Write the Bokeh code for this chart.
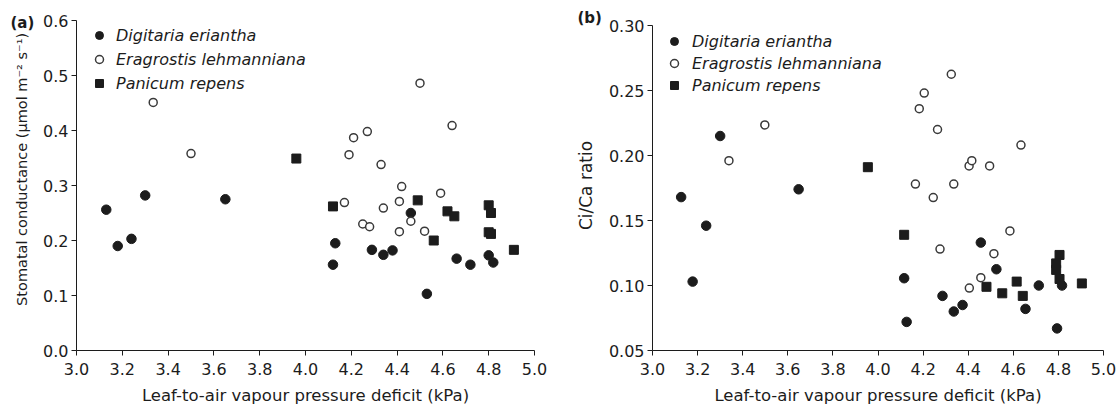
from bokeh.plotting import figure
from bokeh.models import Range1d, FixedTicker, PrintfTickFormatter, Legend, LegendItem, Title
from bokeh.layouts import row
from bokeh.embed import file_html
from bokeh.resources import INLINE

# ---------------- data ----------------
x_ticks = [3.0, 3.2, 3.4, 3.6, 3.8, 4.0, 4.2, 4.4, 4.6, 4.8, 5.0]
a_y_ticks = [0.0, 0.1, 0.2, 0.3, 0.4, 0.5, 0.6]
b_y_ticks = [0.05, 0.10, 0.15, 0.20, 0.25, 0.30]
species = ["Digitaria eriantha", "Eragrostis lehmanniana", "Panicum repens"]

# panel (a): stomatal conductance
a_dig_x = [3.13, 3.18, 3.24, 3.30, 3.65, 4.12, 4.13, 4.29, 4.34, 4.38, 4.46, 4.53, 4.66, 4.72, 4.80, 4.82]
a_dig_y = [0.256, 0.190, 0.203, 0.282, 0.275, 0.156, 0.195, 0.183, 0.174, 0.182, 0.250, 0.103, 0.167, 0.156, 0.173, 0.160]
a_era_x = [3.335, 3.50, 4.17, 4.19, 4.21, 4.25, 4.27, 4.28, 4.33, 4.34, 4.41, 4.41, 4.42, 4.46, 4.50, 4.52, 4.59, 4.64]
a_era_y = [0.451, 0.358, 0.269, 0.356, 0.387, 0.230, 0.398, 0.225, 0.338, 0.259, 0.271, 0.216, 0.298, 0.235, 0.486, 0.217, 0.286, 0.409]
a_pan_x = [3.96, 4.12, 4.49, 4.56, 4.62, 4.65, 4.80, 4.80, 4.81, 4.81, 4.91]
a_pan_y = [0.349, 0.262, 0.273, 0.200, 0.253, 0.244, 0.264, 0.215, 0.250, 0.212, 0.183]

# panel (b): Ci/Ca ratio
b_dig_x = [3.127, 3.178, 3.238, 3.300, 3.648, 4.116, 4.127, 4.286, 4.336, 4.375, 4.456, 4.525, 4.654, 4.713, 4.794, 4.816]
b_dig_y = [0.168, 0.103, 0.146, 0.215, 0.174, 0.1056, 0.072, 0.092, 0.080, 0.085, 0.133, 0.1125, 0.082, 0.100, 0.067, 0.100]
b_era_x = [3.339, 3.498, 4.166, 4.183, 4.205, 4.245, 4.264, 4.275, 4.325, 4.336, 4.404, 4.405, 4.416, 4.456, 4.495, 4.514, 4.585, 4.634]
b_era_y = [0.196, 0.2235, 0.178, 0.236, 0.248, 0.1676, 0.220, 0.128, 0.2625, 0.178, 0.192, 0.098, 0.196, 0.106, 0.192, 0.1245, 0.142, 0.208]
b_pan_x = [3.955, 4.116, 4.481, 4.551, 4.615, 4.642, 4.790, 4.790, 4.805, 4.805, 4.904]
b_pan_y = [0.191, 0.139, 0.099, 0.094, 0.103, 0.092, 0.117, 0.112, 0.1235, 0.105, 0.1016]

FONT = "DejaVu Sans"
INK = "#1c1c1c"
NBSP = "\u00a0"


def make_panel(width, borders, y_range, y_bounds, y_ticks, y_fmt, y_label, y_label_size,
               y_label_standoff, data, legend_pos, legend_spacing, legend_standoff,
               tag, tag_offset, tag_standoff):
    left, right, top, bottom = borders
    p = figure(width=width, height=408, output_backend="svg", toolbar_location=None,
               x_range=Range1d(3.0, 5.0), y_range=Range1d(*y_range),
               min_border_left=left, min_border_right=right,
               min_border_top=top, min_border_bottom=bottom)
    p.outline_line_color = None
    p.grid.visible = False
    p.background_fill_color = "white"
    p.border_fill_color = "white"

    p.xaxis.ticker = FixedTicker(ticks=x_ticks)
    p.xaxis.formatter = PrintfTickFormatter(format="%.1f")
    p.yaxis.ticker = FixedTicker(ticks=y_ticks)
    p.yaxis.formatter = PrintfTickFormatter(format=y_fmt)
    p.yaxis.bounds = y_bounds
    p.xaxis.axis_label = "Leaf-to-air vapour pressure deficit (kPa)"
    p.yaxis.axis_label = y_label
    for ax in (p.xaxis, p.yaxis):
        ax.axis_line_color = INK
        ax.major_tick_line_color = INK
        ax.minor_tick_line_color = None
        ax.major_tick_out = 5
        ax.major_tick_in = 0
        ax.major_label_text_font = FONT
        ax.major_label_text_font_size = "16px"
        ax.major_label_text_color = INK
        ax.axis_label_text_font = FONT
        ax.axis_label_text_font_style = "normal"
        ax.axis_label_text_color = INK
    p.xaxis.axis_label_text_font_size = "16.5px"
    p.yaxis.axis_label_text_font_size = y_label_size
    p.xaxis.major_label_standoff = 7
    p.xaxis.axis_label_standoff = 8
    p.yaxis.major_label_standoff = 3
    p.yaxis.axis_label_standoff = y_label_standoff

    (dx, dy), (ex, ey), (px, py) = data
    r_dig = p.scatter(dx, dy, marker="circle", size=9.5, fill_color=INK, line_color=INK)
    r_pan = p.scatter(px, py, marker="square", size=9, fill_color=INK, line_color=INK)
    r_era = p.scatter(ex, ey, marker="circle", size=8, fill_color="white",
                      line_color="#3a3a3a", line_width=1.5)

    legend = Legend(items=[LegendItem(label=species[0], renderers=[r_dig]),
                           LegendItem(label=species[1], renderers=[r_era]),
                           LegendItem(label=species[2], renderers=[r_pan])],
                    location=legend_pos, glyph_width=20, glyph_height=20, label_height=20,
                    label_standoff=legend_standoff, spacing=legend_spacing, padding=0, margin=0,
                    border_line_color=None, background_fill_alpha=0,
                    label_text_font=FONT, label_text_font_style="italic",
                    label_text_font_size="16px", label_text_color=INK)
    p.add_layout(legend)

    p.add_layout(Title(text=tag, align="left", offset=tag_offset, standoff=tag_standoff,
                       text_font=FONT, text_font_style="bold", text_font_size="15px",
                       text_color=INK), "above")
    return p


pa = make_panel(560, (76, 26, 20, 58), (0.0, 0.6), (0.0, 0.6), a_y_ticks, "%.1f",
                NBSP * 7 + "Stomatal conductance (\u03bcmol m\u207b\u00b2 s\u207b\u00b9)", "14.5px", 10,
                ((a_dig_x, a_dig_y), (a_era_x, a_era_y), (a_pan_x, a_pan_y)),
                (13, 257), 4, 7, "(a)", -66, -22)
pb = make_panel(559, (92, 16, 20, 58), (0.05, 0.30385), (0.05, 0.30), b_y_ticks, "%.2f",
                "Ci/Ca ratio", "17px", 10,
                ((b_dig_x, b_dig_y), (b_era_x, b_era_y), (b_pan_x, b_pan_y)),
                (12, 255), 2, 8, "(b)", -75, -12)

layout = row(pa, pb)
open("out.html", "w").write(file_html(layout, INLINE))
